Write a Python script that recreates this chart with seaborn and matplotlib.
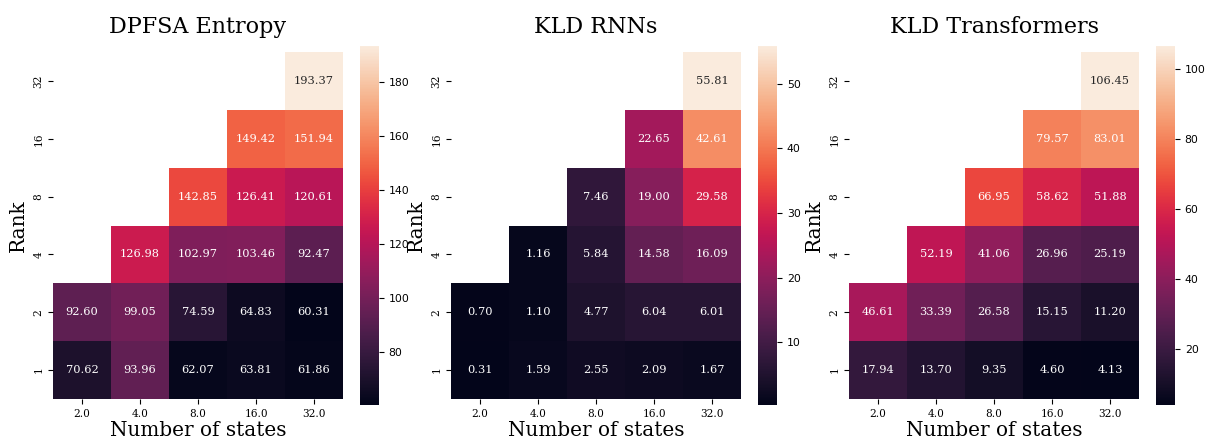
import numpy as np
import pandas as pd
import matplotlib
matplotlib.use("Agg")
import matplotlib.pyplot as plt
import seaborn as sns

nan = np.nan

ranks = [32, 16, 8, 4, 2, 1]
states = [2.0, 4.0, 8.0, 16.0, 32.0]

dpfsa_entropy = [
    [nan, nan, nan, nan, 193.37],
    [nan, nan, nan, 149.42, 151.94],
    [nan, nan, 142.85, 126.41, 120.61],
    [nan, 126.98, 102.97, 103.46, 92.47],
    [92.60, 99.05, 74.59, 64.83, 60.31],
    [70.62, 93.96, 62.07, 63.81, 61.86],
]

kld_rnns = [
    [nan, nan, nan, nan, 55.81],
    [nan, nan, nan, 22.65, 42.61],
    [nan, nan, 7.46, 19.00, 29.58],
    [nan, 1.16, 5.84, 14.58, 16.09],
    [0.70, 1.10, 4.77, 6.04, 6.01],
    [0.31, 1.59, 2.55, 2.09, 1.67],
]

kld_transformers = [
    [nan, nan, nan, nan, 106.45],
    [nan, nan, nan, 79.57, 83.01],
    [nan, nan, 66.95, 58.62, 51.88],
    [nan, 52.19, 41.06, 26.96, 25.19],
    [46.61, 33.39, 26.58, 15.15, 11.20],
    [17.94, 13.70, 9.35, 4.60, 4.13],
]

titles = ["DPFSA Entropy", "KLD RNNs", "KLD Transformers"]
panels = [dpfsa_entropy, kld_rnns, kld_transformers]

W, H = 1215, 446
fig = plt.figure(figsize=(W / 100, H / 100), dpi=100)


def px_axes(x0, y0, x1, y1):
    return fig.add_axes([x0 / W, 1 - y1 / H, (x1 - x0) / W, (y1 - y0) / H])


# pixel boxes for heatmap and colorbar of each panel
heat_boxes = [(53, 52, 343, 399), (451, 52, 741, 399), (849, 52, 1139, 399)]
cbar_boxes = [(360, 46, 379, 405), (758, 46, 777, 405), (1156, 46, 1175, 405)]

for title, vals, hb, cb in zip(titles, panels, heat_boxes, cbar_boxes):
    ax = px_axes(*hb)
    cax = px_axes(*cb)
    df = pd.DataFrame(vals, index=ranks, columns=states)
    sns.heatmap(df, ax=ax, cbar_ax=cax, cmap="rocket", annot=True, fmt=".2f",
                annot_kws={"fontsize": 8.2, "family": "DejaVu Serif"})
    ax.set_xticklabels([f"{s:.1f}" for s in states], family="DejaVu Serif",
                       fontsize=7.6, rotation=0)
    ax.set_yticklabels([str(r) for r in ranks], family="DejaVu Serif",
                       fontsize=7.6, rotation=90, va="center")
    ax.set_title(title, family="DejaVu Serif", fontsize=16, pad=14)
    ax.set_xlabel("Number of states", family="DejaVu Serif", fontsize=14.4, labelpad=2)
    ax.set_ylabel("Rank", family="DejaVu Serif", fontsize=14.4)
    cax.tick_params(labelsize=7.8)

fig.savefig("out.png", dpi=100)
